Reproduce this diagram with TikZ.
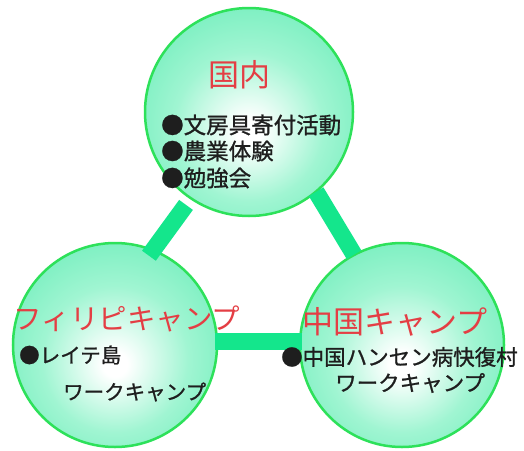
\documentclass[tikz,border=0pt]{standalone}
\usepackage{fontspec}
\newfontfamily\jp{Noto Sans CJK JP}
\newfontfamily\jpb[FakeBold=1]{Noto Sans CJK JP}
\usetikzlibrary{calc}
\definecolor{ballout}{RGB}{100,236,182}
\definecolor{ballmid}{RGB}{160,245,210}
\definecolor{ballborder}{RGB}{45,225,90}
\definecolor{barcol}{RGB}{20,230,140}
\definecolor{titlered}{RGB}{228,62,68}
\definecolor{bodytext}{RGB}{30,30,30}
\pgfdeclareradialshading{mintball}{\pgfpoint{0bp}{-5bp}}{color(0bp)=(white); color(3bp)=(white); color(18bp)=(ballmid); color(36bp)=(ballout); color(60bp)=(ballout)}
\begin{document}
\begin{tikzpicture}[x=1pt,y=-1pt,
  ball/.style={circle, inner sep=0pt, draw=ballborder, line width=2.5pt, shade, shading=mintball},
  bar/.style={draw=barcol, line width=17pt},
  title/.style={font=\jp\fontsize{31}{31}\selectfont, text=titlered, inner sep=0pt},
  body/.style={text=bodytext, inner sep=0pt, anchor=west}]
\useasboundingbox (0,0) rectangle (524,450);
\fill[white] (0,0) rectangle (524,450);
% circles
\node[ball, minimum size=208pt] (top) at (249,112) {};
\node[ball, minimum size=204pt] (left) at (115,345) {};
\node[ball, minimum size=204pt] (right) at (402,345) {};
% bars
\draw[bar, shorten <=7pt, shorten >=-8pt] (top.236) -- (left.68);
\draw[bar, shorten <=-1pt, shorten >=-1pt] (top.310) -- (right.118);
\draw[bar, shorten <=-3pt, shorten >=-3pt] (left.2) -- (right.178);
% titles
\node[title] (tT) at (239,75) {国内};
\node[title, font=\jp\fontsize{28.5}{28.5}\selectfont] (lT) at (127,319) {フィリピキャンプ};
\node[title] (rT) at (395,322) {中国キャンプ};
% body text
\begin{scope}[every node/.append style={font=\jpb\fontsize{22.5}{26}\selectfont}]
\node[body] (t1) at (161,125) {●文房具寄付活動};
\node[body] (t2) at (161,151) {●農業体験};
\node[body] (t3) at (161,178) {●勉強会};
\end{scope}
\begin{scope}[every node/.append style={font=\jpb\fontsize{20.5}{24}\selectfont}]
\node[body] (l1) at (19,355) {●レイテ島};
\node[body] (l2) at (63,392) {ワークキャンプ};
\end{scope}
\begin{scope}[every node/.append style={font=\jpb\fontsize{21.5}{25}\selectfont}]
\node[body] (r1) at (281,357) {●中国ハンセン病快復村};
\node[body] (r2) at (335,383) {ワークキャンプ};
\end{scope}
\end{tikzpicture}
\end{document}
